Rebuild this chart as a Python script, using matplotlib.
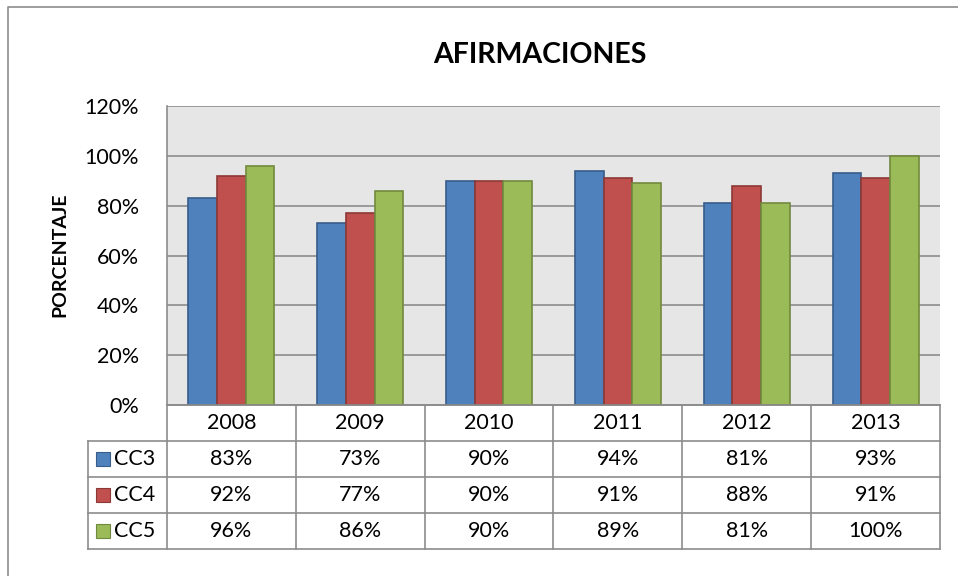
import matplotlib
matplotlib.use("Agg")
import matplotlib.pyplot as plt
from matplotlib.patches import Rectangle

YEARS = ["2008", "2009", "2010", "2011", "2012", "2013"]
SERIES = ["CC3", "CC4", "CC5"]
CC3 = [83, 73, 90, 94, 81, 93]
CC4 = [92, 77, 90, 91, 88, 91]
CC5 = [96, 86, 90, 89, 81, 100]
Y_TICKS = [0, 20, 40, 60, 80, 100, 120]

COLORS = ["#4F81BD", "#C0504D", "#9BBB59"]
EDGES = ["#385D8A", "#8C3836", "#71893F"]
GRID = "#8C8C8C"
FONT = "Lato"

W, H = 958, 576


def fx(px):
    return px / W


def fy(py):
    return 1 - py / H


fig = plt.figure(figsize=(W / 100, H / 100), dpi=100)

# outer chart border (only left and top are inside the picture)
fig.add_artist(plt.Line2D([fx(8), fx(8), 1.0], [0, fy(7), fy(7)],
                          transform=fig.transFigure, color=GRID, lw=1.2))

L, R, T, B = 167, 940, 106, 405
ax = fig.add_axes([fx(L), fy(B), fx(R) - fx(L), fy(T) - fy(B)])
ax.set_facecolor("#E6E6E6")

data = [CC3, CC4, CC5]
w = 1 / 4.5  # gap width 150%
for i, vals in enumerate(data):
    xs = [k + (i - 1) * w for k in range(len(YEARS))]
    ax.bar(xs, vals, width=w, color=COLORS[i], edgecolor=EDGES[i], lw=1.2,
           zorder=3)

ax.set_xlim(-0.5, len(YEARS) - 0.5)
ax.set_ylim(0, 120)
ax.set_yticks(Y_TICKS)
ax.set_yticklabels([f"{t}%" for t in Y_TICKS], fontsize=15.5, family=FONT)
ax.tick_params(axis="y", length=0, pad=20)
ax.set_xticks([])
ax.yaxis.grid(True, color=GRID, lw=1.2)
ax.set_axisbelow(True)
for s in ["top", "bottom", "left", "right"]:
    ax.spines[s].set_color(GRID)
    ax.spines[s].set_linewidth(1.2)
ax.spines["right"].set_visible(False)
ax.spines["top"].set_visible(False)

fig.text(fx(540), fy(55), "AFIRMACIONES", ha="center", va="center",
         fontsize=20.5, fontweight="bold", family=FONT)
fig.text(fx(60), fy(255), "PORCENTAJE", ha="center", va="center",
         rotation=90, fontsize=14, fontweight="bold", family=FONT)

# data table
TB = 549
tax = fig.add_axes([fx(L), fy(TB), fx(R) - fx(L), fy(B) - fy(TB)])
tax.set_xlim(-0.5, len(YEARS) - 0.5)
tax.set_ylim(4, 0)
tax.axis("off")
cell_w = (R - L) / len(YEARS)
x_left = -0.5 - (L - 88) / cell_w

lk = dict(color=GRID, lw=1.2, clip_on=False)
tax.plot([-0.5, 5.5], [0, 0], **lk)
for r in range(1, 5):
    tax.plot([x_left, 5.5], [r, r], **lk)
for k in range(len(YEARS) + 1):
    tax.plot([k - 0.5, k - 0.5], [0, 4], **lk)
tax.plot([x_left, x_left], [1, 4], **lk)

for k, yr in enumerate(YEARS):
    tax.text(k, 0.5, yr, ha="center", va="center", fontsize=15.5, family=FONT)
for i, name in enumerate(SERIES):
    r = i + 1.5
    key_w = 14 / cell_w
    kx = x_left + 8 / cell_w
    tax.add_patch(Rectangle((kx, r - 0.2), key_w, 0.4, fc=COLORS[i],
                            ec=EDGES[i], lw=0.8, clip_on=False))
    tax.text(kx + key_w + 4 / cell_w, r, name, ha="left", va="center",
             fontsize=15.5, family=FONT, clip_on=False)
    for k, v in enumerate(data[i]):
        tax.text(k, r, f"{v}%", ha="center", va="center", fontsize=15.5,
                 family=FONT)

fig.savefig("out.png", dpi=100)
